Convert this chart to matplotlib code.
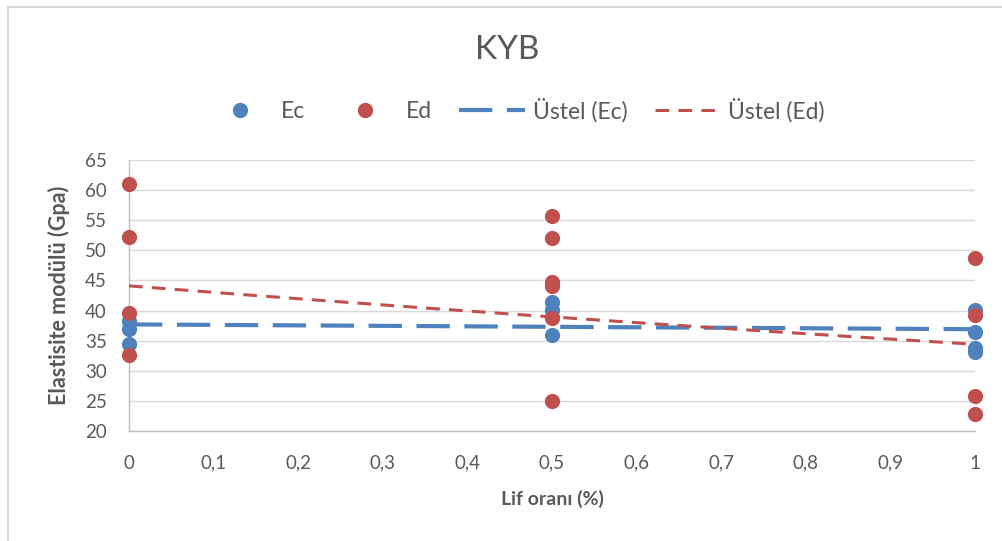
import numpy as np
import matplotlib
matplotlib.use("Agg")
import matplotlib.pyplot as plt
from matplotlib.lines import Line2D
from matplotlib.patches import Rectangle

plt.rcParams['font.family'] = ['Lato', 'DejaVu Sans']

# ---- data ----
ec_x = [0, 0, 0, 0.5, 0.5, 0.5, 0.5, 1, 1, 1, 1]
ec_y = [38.3, 37.0, 34.5, 41.5, 40.1, 39.0, 35.9, 40.1, 36.5, 33.7, 33.1]
ed_x = [0, 0, 0, 0, 0.5, 0.5, 0.5, 0.5, 0.5, 0.5, 1, 1, 1, 1]
ed_y = [61.0, 52.2, 39.6, 32.6, 55.7, 52.0, 44.8, 44.0, 38.7, 25.0, 48.8, 39.3, 25.8, 22.8]
# exponential trend lines y = a*exp(b*x) ("Üstel")
trend_ec = (37.7, -0.0214)
trend_ed = (44.1, -0.2484)

title = "KYB"
series_names = ["Ec", "Ed", "Üstel (Ec)", "Üstel (Ed)"]
x_label = "Lif oranı (%)"
y_label = "Elastisite modülü (Gpa)"
x_ticks = [0, 0.1, 0.2, 0.3, 0.4, 0.5, 0.6, 0.7, 0.8, 0.9, 1]
y_ticks = [20, 25, 30, 35, 40, 45, 50, 55, 60, 65]

BLUE = "#4F81BD"
RED = "#C0504D"
GRAY = "#595959"

W, H = 1003, 541
fig = plt.figure(figsize=(W / 100, H / 100), dpi=100)
fig.patches.append(Rectangle((8 / W, -0.1), 1.2, 1 - 7 / H + 0.1, transform=fig.transFigure,
                             fill=False, edgecolor="#d9d9d9", linewidth=1.5, zorder=0))

ax = fig.add_axes([129 / W, 1 - 431 / H, (975 - 129) / W, (431 - 160) / H])
ax.set_xlim(0, 1)
ax.set_ylim(20, 65)

for sp in ["top", "right"]:
    ax.spines[sp].set_visible(False)
ax.spines["bottom"].set_color("#bfbfbf")
ax.spines["left"].set_color("#bfbfbf")
ax.spines["bottom"].set_linewidth(1.0)
ax.spines["left"].set_linewidth(1.0)

ax.set_yticks(y_ticks)
ax.set_xticks(x_ticks)
ax.set_xticklabels([("%g" % v).replace(".", ",") for v in x_ticks])
ax.grid(axis="y", color="#d9d9d9", linewidth=1.0)
ax.set_axisbelow(True)
ax.tick_params(axis="both", length=0, labelsize=13.5, labelcolor=GRAY)
ax.tick_params(axis="y", pad=16)
ax.tick_params(axis="x", pad=17)

ax.scatter(ec_x, ec_y, s=120, color=BLUE, zorder=3, clip_on=False, linewidths=0)
ax.scatter(ed_x, ed_y, s=120, color=RED, zorder=3, clip_on=False, linewidths=0)

xs = np.linspace(0, 1, 200)
ax.plot(xs, trend_ec[0] * np.exp(trend_ec[1] * xs), color=BLUE, lw=3.0,
        dashes=(8, 3.5), zorder=4)
ax.plot(xs, trend_ed[0] * np.exp(trend_ed[1] * xs), color=RED, lw=2.2,
        dashes=(4.5, 3), zorder=4)

ax.set_xlabel(x_label, fontsize=14, fontweight="bold", color=GRAY, labelpad=13)
ax.set_ylabel(y_label, fontsize=15.5, fontweight="bold", color=GRAY, labelpad=11)

fig.text(507 / W, 1 - 50 / H, title, fontsize=24, color=GRAY, ha="center", va="center")

handles = [
    Line2D([], [], ls="none", marker="o", markersize=11, color=BLUE, markeredgewidth=0),
    Line2D([], [], ls="none", marker="o", markersize=11, color=RED, markeredgewidth=0),
    Line2D([], [], color=BLUE, lw=3.0, dashes=(8, 3.5)),
    Line2D([], [], color=RED, lw=2.2, dashes=(4.5, 3)),
]
leg = fig.legend(handles, series_names, loc="center", bbox_to_anchor=(516 / W, 1 - 110 / H),
                 ncol=4, frameon=False, fontsize=16.5, handlelength=2.85, handletextpad=0.35,
                 columnspacing=1.2, numpoints=1)
for t in leg.get_texts():
    t.set_color(GRAY)

fig.savefig("out.png", dpi=100)
